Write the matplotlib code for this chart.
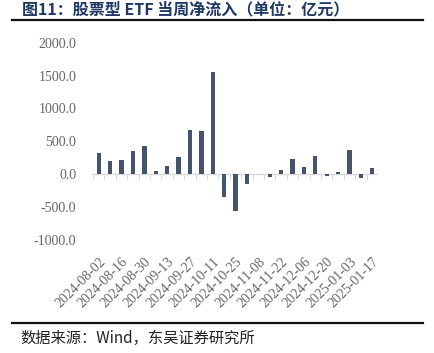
import matplotlib
matplotlib.use('Agg')
import matplotlib.pyplot as plt
from matplotlib.transforms import ScaledTranslation
import numpy as np

# weekly net inflow of equity ETFs (100m CNY)
weeks = ['2024-08-02', '2024-08-09', '2024-08-16', '2024-08-23', '2024-08-30',
         '2024-09-06', '2024-09-13', '2024-09-20', '2024-09-27', '2024-10-04',
         '2024-10-11', '2024-10-18', '2024-10-25', '2024-11-01', '2024-11-08',
         '2024-11-15', '2024-11-22', '2024-11-29', '2024-12-06', '2024-12-13',
         '2024-12-20', '2024-12-27', '2025-01-03', '2025-01-10', '2025-01-17']
inflow = [330, 208, 224, 361, 437, 46, 132, 259, 670, 665,
          1549, -340, -563, -152, 10, -35, 72, 228, 117, 274,
          -30, 30, 376, -56, 91]
yticks = [-1000, -500, 0, 500, 1000, 1500, 2000]

title = '图11：股票型 ETF 当周净流入（单位：亿元）'
source = '数据来源：Wind，东吴证券研究所'

cjk = ['Noto Sans CJK SC', 'DejaVu Sans']
serif = ['Liberation Serif', 'DejaVu Serif']
bar_c = '#44546a'
grey = '#666666'

fig = plt.figure(figsize=(4.35, 3.53), dpi=100)
ax = fig.add_axes([0.214, 0.320, 0.655, 0.559])

x = np.arange(len(weeks))
ax.bar(x, inflow, width=0.38, color=bar_c, zorder=3)
ax.set_xlim(-0.5, len(weeks) - 0.5)
ax.set_ylim(-1000, 2000)
ax.set_yticks(yticks)
ax.set_yticklabels(['%.1f' % v for v in yticks], fontfamily=serif,
                   fontsize=10, color=grey)
ax.tick_params(axis='y', length=0, pad=12)

for s in ax.spines.values():
    s.set_visible(False)
ax.axhline(0, color='#d9d9d9', lw=1, zorder=2)
# little tick marks between categories on the zero line
for b in np.arange(-0.5, len(weeks), 1.0):
    ax.plot([b, b], [0, -70], color='#d9d9d9', lw=0.8, zorder=2)

ax.set_xticks(x[::2])
ax.set_xticklabels(weeks[::2], rotation=45, ha='right', va='top',
                   rotation_mode='anchor', fontfamily=serif, fontsize=10,
                   color=grey)
ax.tick_params(axis='x', length=0, pad=11)
off = ScaledTranslation(0, 0, fig.dpi_scale_trans)
for lab in ax.get_xticklabels():
    lab.set_transform(lab.get_transform() + off)

fig.text(22 / 435, 1 - 9 / 353, title, fontfamily=cjk, fontsize=11.5,
         fontweight='bold', color='#1f3864', ha='left', va='center')
fig.add_artist(plt.Line2D([12 / 435, 423 / 435], [1 - 20 / 353, 1 - 20 / 353],
                          color='#111111', lw=1.6))
fig.add_artist(plt.Line2D([12 / 435, 423 / 435], [1 - 323 / 353, 1 - 323 / 353],
                          color='#111111', lw=1.6))
fig.text(20 / 435, 1 - 338 / 353, source, fontfamily=cjk, fontsize=11,
         color='#222222', ha='left', va='center')

fig.savefig('out.png', dpi=100)
